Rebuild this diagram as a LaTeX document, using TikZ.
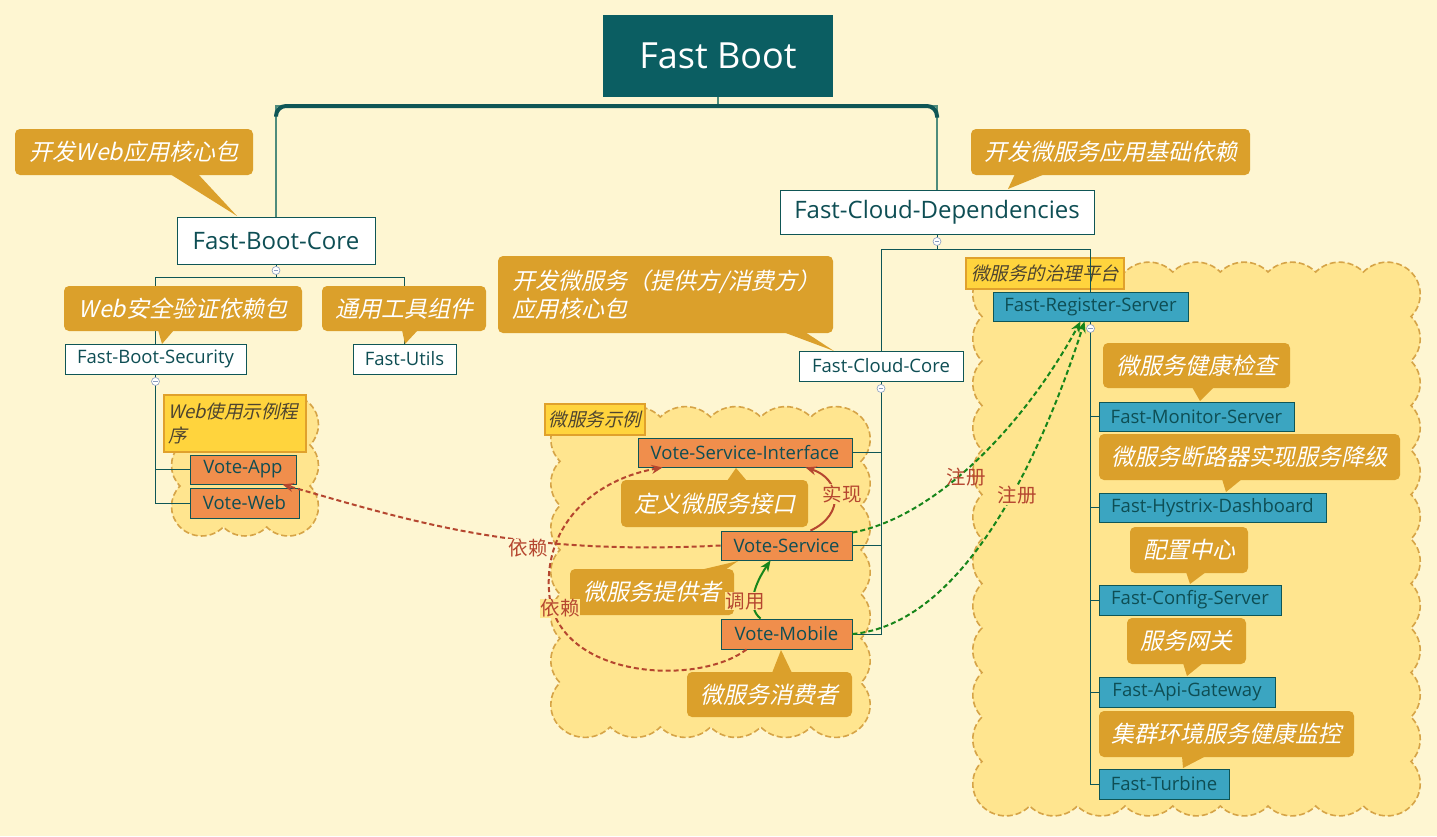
\documentclass[tikz,border=0pt]{standalone}
\usepackage{fontspec}
\setmainfont{Open Sans}
\newfontfamily\cjk{Noto Sans CJK SC}
\newfontfamily\cjkit[FakeSlant=0.22]{Noto Sans CJK SC}
\usetikzlibrary{calc,arrows.meta}
\definecolor{bg}{HTML}{FEF6D2}
\definecolor{titlefill}{HTML}{0B5E62}
\definecolor{tealdark}{HTML}{0F5656}
\definecolor{trunkthin}{HTML}{4F8C7C}
\definecolor{gold}{HTML}{DBA02B}
\definecolor{orangebox}{HTML}{F08E4C}
\definecolor{bluebox}{HTML}{3BA5C1}
\definecolor{cloudfill}{HTML}{FFE58F}
\definecolor{cloudline}{HTML}{D6A447}
\definecolor{labfill}{HTML}{FFD43D}
\definecolor{labline}{HTML}{E0A12C}
\definecolor{labtext}{HTML}{4D4430}
\definecolor{relred}{HTML}{B5462F}
\definecolor{relgreen}{HTML}{17851A}
\definecolor{nodetext}{HTML}{0E4E54}
\definecolor{collapsedraw}{HTML}{8A9CC0}
\newcommand\pbox[7]{\node[#6, minimum width={#4pt-#2pt}, minimum height={#5pt-#3pt}] (#1) at ({(#2+#4)/2},{(#3+#5)/2}) {#7};}
\newcommand\callout[8]{\fill[gold] #6 -- cycle;
  \pbox{#1}{#2}{#3}{#4}{#5}{callbox,#7}{#8}}
\newcommand\cloudshape[6]{%
  \pgfmathsetmacro\cw{(#3-#1)/#5}%
  \pgfmathsetmacro\ch{(#4-#2)/#6}%
  \draw[cloudreg] (#1,#2)
    \foreach \i in {1,...,#5} { to[bend left=45] ({#1+\i*\cw},#2) }
    \foreach \i in {1,...,#6} { to[bend left=45] (#3,{#2+\i*\ch}) }
    \foreach \i in {1,...,#5} { to[bend left=45] ({#3-\i*\cw},#4) }
    \foreach \i in {1,...,#6} { to[bend left=45] (#1,{#4-\i*\ch}) }
    -- cycle;}
\tikzset{
  nbox/.style={draw=tealdark, line width=0.9pt, inner sep=0pt, text=nodetext, font=\fontsize{18.5}{20}\selectfont},
  whitebox/.style={nbox, fill=white},
  orbox/.style={nbox, fill=orangebox},
  blbox/.style={nbox, fill=bluebox},
  callbox/.style={fill=gold, rounded corners=5pt, inner sep=0pt, text=white, font=\cjkit\fontsize{23}{28}\selectfont},
  cloudlab/.style={fill=labfill, draw=labline, line width=1.2pt, inner sep=0pt, text=labtext, font=\cjkit\fontsize{18.5}{24}\selectfont},
  conn/.style={draw=tealdark, line width=1pt},
  cloudreg/.style={fill=cloudfill, draw=cloudline, line width=1.6pt, dash pattern=on 6pt off 3pt},
  rel/.style={font=\cjk\fontsize{19.5}{21}\selectfont, inner sep=0.5pt, text=relred},
  reldash/.style={line width=2pt, dash pattern=on 5pt off 3pt, -{Stealth[length=11pt,width=9pt]}},
  relsolid/.style={line width=2pt, -{Stealth[length=11pt,width=9pt]}},
  collapse/.style={circle, draw=collapsedraw, fill=white, minimum size=8pt, inner sep=0pt, line width=0.6pt,
    path picture={\draw[collapsedraw, line width=0.6pt] ([xshift=-2.2pt]path picture bounding box.center) -- ([xshift=2.2pt]path picture bounding box.center);}},
}
\begin{document}
\begin{tikzpicture}[x=1pt, y=-1pt]
\useasboundingbox (0,0) rectangle (1437,836);
\fill[bg] (0,0) rectangle (1437,836);

% cloud regions
\cloudshape{180}{404}{310}{527}{3}{3}
\cloudshape{560}{417}{861}{727}{6}{7}
\cloudshape{982}{272}{1411}{806}{9}{12}

% cloud labels
\pbox{lweb}{164}{395}{306}{452}{cloudlab, align=left, text width=134pt}{Web使用示例程\\序}
\pbox{lms}{545}{404}{645}{435}{cloudlab}{微服务示例}
\pbox{lgov}{966}{258}{1124}{289}{cloudlab}{微服务的治理平台}

% nodes
\pbox{title}{603}{15}{833}{97}{fill=titlefill, inner sep=0pt, text=white, font=\fontsize{36}{40}\selectfont}{Fast Boot}
\pbox{fbcore}{177}{217}{375}{264}{whitebox, font=\fontsize{24}{28}\selectfont}{Fast-Boot-Core}
\pbox{fcd}{780}{190}{1094}{234}{whitebox, font=\fontsize{24}{28}\selectfont}{Fast-Cloud-Dependencies}
\pbox{fbsec}{65}{344}{246}{374}{whitebox}{Fast-Boot-Security}
\pbox{futils}{353}{344}{456}{374}{whitebox}{Fast-Utils}
\pbox{vapp}{190}{455}{296}{484}{orbox}{Vote-App}
\pbox{vweb}{190}{488}{299}{518}{orbox}{Vote-Web}
\pbox{fcc}{799}{351}{963}{381}{whitebox}{Fast-Cloud-Core}
\pbox{vsi}{638}{438}{852}{467}{orbox}{Vote-Service-Interface}
\pbox{vs}{721}{531}{852}{560}{orbox}{Vote-Service}
\pbox{vm}{721}{619}{852}{649}{orbox}{Vote-Mobile}
\pbox{frs}{993}{292}{1188}{321}{blbox}{Fast-Register-Server}
\pbox{fms}{1099}{402}{1294}{431}{blbox}{Fast-Monitor-Server}
\pbox{fhd}{1099}{493}{1326}{522}{blbox}{Fast-Hystrix-Dashboard}
\pbox{fcs}{1099}{585}{1281}{615}{blbox}{Fast-Config-Server}
\pbox{fag}{1099}{677}{1275}{707}{blbox}{Fast-Api-Gateway}
\pbox{ftb}{1099}{769}{1229}{799}{blbox}{Fast-Turbine}

% tree connectors
\coordinate (tj) at (718,106);
\draw[trunkthin, line width=2pt] (title.south) -- (tj);
\draw[trunkthin, line width=2pt] (fbcore.north) |- (tj) -| (fcd.north);
\draw[tealdark, line width=4pt, rounded corners=10pt] ($(fbcore.north)+(0,-100)$) |- (tj) -| ($(fcd.north)+(0,-72)$);

\coordinate (j1) at ($(fbcore.south)+(0,13)$);
\draw[conn] (fbcore.south) -- (j1);
\draw[conn] (fbsec.north) |- (j1) -| (futils.north);
\draw[conn] (fbsec.south) |- (vapp.west);
\draw[conn] (fbsec.south) |- (vweb.west);

\coordinate (j2) at ($(fcd.south)+(0,15)$);
\draw[conn] (fcd.south) -- (j2);
\draw[conn] (fcc.north) |- (j2) -| (frs.north);
\draw[conn] (fcc.south) |- (vsi.east);
\draw[conn] (fcc.south) |- (vs.east);
\draw[conn] (fcc.south) |- (vm.east);

\draw[conn] (frs.south) |- (fms.west);
\draw[conn] (frs.south) |- (fhd.west);
\draw[conn] (frs.south) |- (fcs.west);
\draw[conn] (frs.south) |- (fag.west);
\draw[conn] (frs.south) |- (ftb.west);

% collapse markers
\node[collapse] (m1) at ($(fbcore.south)+(0,6)$) {};
\node[collapse] (m2) at ($(fbsec.south)+(0,7)$) {};
\node[collapse] (m3) at ($(fcd.south)+(0,7)$) {};
\node[collapse] (m4) at ($(fcc.south)+(0,7)$) {};
\node[collapse] (m5) at ($(frs.south)+(0,7)$) {};

% callouts
\callout{c1}{15}{129}{253}{175}{(170,174) -- (198,174) -- (237,216)}{}{开发Web应用核心包}
\callout{c2}{64}{286}{302}{331}{(158,330) -- (174,330) -- (162,344)}{}{Web安全验证依赖包}
\callout{c3}{322}{286}{486}{331}{(402,330) -- (418,330) -- (405,344)}{}{通用工具组件}
\callout{c4}{498}{256}{833}{333}{(783,332) -- (805,332) -- (834,351)}{align=left, text width=307pt}{开发微服务（提供方/消费方）\\应用核心包}
\callout{c5}{971}{129}{1250}{175}{(1015,174) -- (1045,174) -- (1008,189)}{}{开发微服务应用基础依赖}
\callout{c6}{1103}{343}{1290}{388}{(1192,387) -- (1214,387) -- (1200,401)}{}{微服务健康检查}
\callout{c7}{1099}{434}{1400}{480}{(1222,479) -- (1242,479) -- (1226,492)}{}{微服务断路器实现服务降级}
\callout{c8}{1130}{527}{1248}{573}{(1186,572) -- (1206,572) -- (1190,584)}{}{配置中心}
\callout{c9}{1127}{618}{1246}{664}{(1183,663) -- (1203,663) -- (1187,676)}{}{服务网关}
\callout{c10}{1099}{711}{1354}{757}{(1182,756) -- (1206,756) -- (1183,768)}{}{集群环境服务健康监控}
\callout{c11}{621}{480}{808}{527}{(727,481) -- (747,481) -- (736,468)}{}{定义微服务接口}
\callout{c12}{570}{569}{734}{615}{(700,570) -- (725,570) -- (738,561)}{}{微服务提供者}
\callout{c13}{687}{672}{852}{717}{(772,673) -- (792,673) -- (781,650)}{}{微服务消费者}

% relationships
\draw[relsolid, relred] ($(vs.north east)+(-42,0)$) .. controls +(35,-16) and +(35,11) .. ($(vsi.south east)+(-47,0)$);
\draw[reldash, relred] (vs.west) .. controls +(-200,10) and +(140,40) .. ($(vapp.south east)+(-14,0)$);
\draw[reldash, relred] ($(vm.south west)+(26,0)$) .. controls +(-47,36) and +(15,80) .. (550,600) .. controls +(-10,-70) and +(-73,13) .. ($(vsi.south west)+(25,0)$);
\draw[relsolid, relgreen] ($(vm.north west)+(40,0)$) .. controls +(-15,-12) and +(-15,22) .. ($(vs.south west)+(50,0)$);
\draw[reldash, relgreen] ($(vs.north east)+(0,2)$) .. controls +(80,-15) and +(-60,110) .. ($(frs.south west)+(88,0)$);
\draw[reldash, relgreen] (vm.east) .. controls +(110,-10) and +(-45,140) .. ($(frs.south west)+(92,0)$);

\node[rel, fill=cloudfill] (limpl) at (842,494) {实现};
\node[rel, fill=bg] (ldep1) at (528,548) {依赖};
\node[rel, fill=cloudfill] (ldep2) at (560,608) {依赖};
\node[rel, fill=cloudfill] (lcall) at (745,601) {调用};
\node[rel] (lreg1) at (966,477) {注册};
\node[rel, fill=cloudfill] (lreg2) at (1017,495) {注册};
\end{tikzpicture}
\end{document}
